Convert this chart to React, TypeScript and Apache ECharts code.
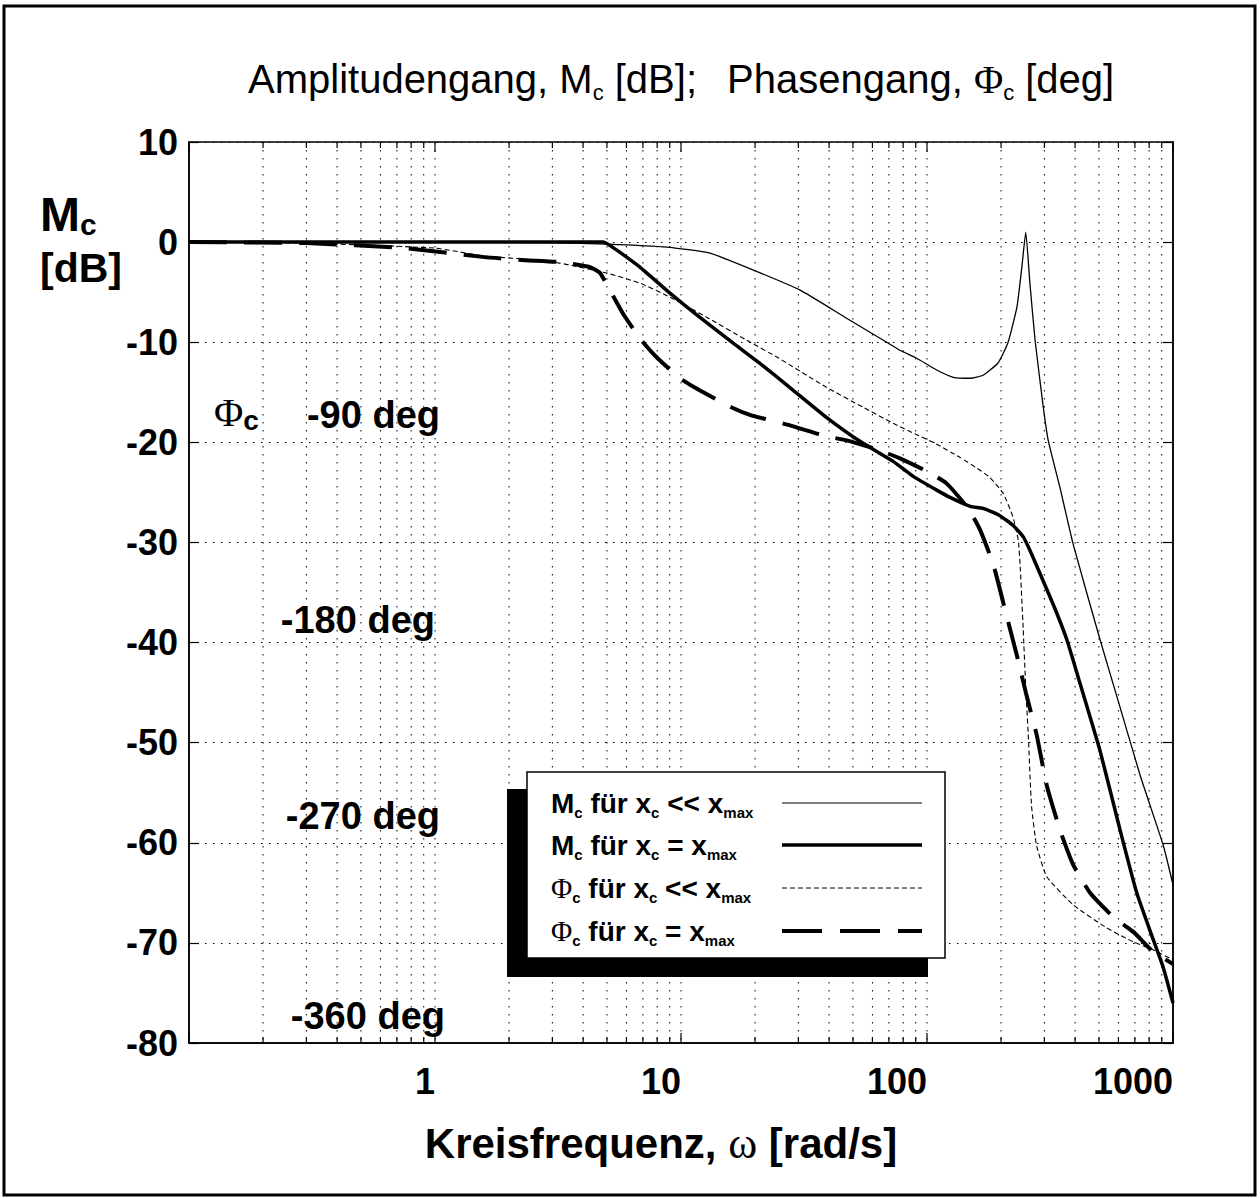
import React, { useEffect, useRef } from "react";
import * as echarts from "echarts";

const SANS = '"Liberation Sans", Arial, Helvetica, sans-serif';
const SERIF = '"Liberation Serif", "DejaVu Serif", "Times New Roman", serif';

// ---- axes ----
const X_MIN = 0.1;
const X_MAX = 1000;
const Y_MIN = -80;
const Y_MAX = 10;
const Y_STEP = 10;
const xTickLabels = [1, 10, 100, 1000];
const gridDecades = [0.1, 1, 10, 100];
const gridSteps = [1, 2, 3, 4, 5, 6, 7, 8, 9];

// ---- series: M_c für x_c << x_max (thin solid) ----
const magSmallFreq = [0.1, 1, 3, 5, 8.75, 13.1, 19.7, 30.5, 47.1, 64.4, 77.6, 90.8, 110, 128, 150, 169, 194, 213, 232, 243, 252, 262, 275, 297, 311, 347, 393, 505, 590, 734, 914, 1000];
const magSmallDb = [0, 0, -0.05, -0.2, -0.5, -1.1, -2.8, -4.8, -7.6, -9.6, -10.8, -11.6, -12.8, -13.5, -13.6, -13.3, -12.1, -10.1, -6.5, -2.5, 1.0, -4.1, -9.8, -16.5, -19.8, -24.5, -30.2, -39.7, -45.3, -53.2, -60.3, -64.2];

// ---- series: M_c für x_c = x_max (thick solid) ----
const magMaxFreq = [0.1, 1, 4.83, 5.48, 6.01, 6.81, 9.02, 11.9, 16.3, 20.9, 28.6, 39, 53.4, 72.9, 87.9, 110, 124, 150, 169, 197, 224, 247, 271, 326, 370, 419, 505, 609, 712, 832, 914, 1000];
const magMaxDb = [0, 0, 0, -0.8, -1.5, -2.5, -5.1, -7.5, -10.1, -12.1, -14.8, -17.5, -19.9, -21.9, -23.4, -24.8, -25.5, -26.4, -26.6, -27.3, -28.3, -29.5, -31.6, -36.2, -39.7, -44.1, -50.8, -58.7, -65.0, -69.7, -72.5, -76.0];

// ---- series: Phi_c für x_c << x_max (thin dashed) ----
const phaseSmallFreq = [0.1, 0.3, 1, 1.6, 2.67, 3.22, 5, 6.81, 9.02, 12.7, 18.5, 25, 39, 55, 72.9, 90, 106, 136, 160, 180, 204, 224, 235, 239, 246, 252, 258, 266, 279, 307, 393, 537, 690, 832, 1000];
const phaseSmallDb = [0, -0.1, -0.6, -1.4, -1.8, -2.1, -3.1, -4.1, -5.5, -7.5, -9.8, -11.6, -14.5, -16.5, -18.1, -19.2, -20.0, -21.5, -22.6, -23.5, -25.1, -27.5, -29.8, -32.2, -38.6, -44.5, -49.2, -56.3, -60.3, -63.4, -66.2, -68.5, -69.9, -70.7, -71.7];

// ---- series: Phi_c für x_c = x_max (thick dashed) ----
const phaseMaxFreq = [0.1, 0.3, 0.75, 1.59, 2.32, 3.22, 4.27, 4.69, 5.14, 5.83, 6.9, 7.96, 9.9, 11.9, 16, 19.3, 27.7, 39, 47.1, 64.4, 77.6, 100, 120, 147, 164, 186, 211, 232, 254, 279, 307, 347, 393, 460, 571, 690, 832, 1000];
const phaseMaxDb = [0, -0.1, -0.6, -1.5, -1.8, -2.0, -2.5, -3.1, -4.8, -7.2, -9.8, -11.5, -13.6, -14.8, -16.5, -17.3, -18.3, -19.4, -19.8, -20.8, -21.6, -22.9, -24.1, -26.6, -28.7, -32.2, -37.4, -41.3, -45.3, -49.2, -54.3, -58.7, -62.2, -65.0, -67.4, -68.9, -70.9, -72.1];

// ---- texts ----
const phaseLabels = ["-90 deg", "-180 deg", "-270 deg", "-360 deg"];
const legendTexts = [
  "{m|M}{s|c}{m| für x}{s|c}{m| << x}{s|max}",
  "{m|M}{s|c}{m| für x}{s|c}{m| = x}{s|max}",
  "{p|Φ}{s|c}{m| für x}{s|c}{m| << x}{s|max}",
  "{p|Φ}{s|c}{m| für x}{s|c}{m| = x}{s|max}",
];

const pairs = (f: number[], v: number[]) => f.map((x, i) => [x, v[i]]);

const gridValues: number[] = [];
gridDecades.forEach((d) => gridSteps.forEach((s) => gridValues.push(+(d * s).toPrecision(6))));
gridValues.push(X_MAX);

export default function App() {
  const ref = useRef<HTMLDivElement>(null);
  useEffect(() => {
    if (!ref.current) return;
    const chart = echarts.init(ref.current, undefined, { renderer: "svg" });

    const gridLeft = 189;
    const gridTop = 142;
    const gridW = 984;
    const gridH = 901;

    const dotted = [1.5, 6.5];

    const legendRich = {
      m: { fontFamily: SANS, fontWeight: "bold", fontSize: 28, lineHeight: 34, fill: "#000", color: "#000" },
      s: { fontFamily: SANS, fontWeight: "bold", fontSize: 15, lineHeight: 16, verticalAlign: "bottom", fill: "#000", color: "#000" },
      p: { fontFamily: SERIF, fontSize: 29, lineHeight: 34, fill: "#000", color: "#000" },
    };

    const legendRowsY = [803, 845, 888, 931];
    const legendLineStyles = [
      { lineWidth: 1.2, lineDash: null },
      { lineWidth: 3.5, lineDash: null },
      { lineWidth: 1, lineDash: [5, 3] },
      { lineWidth: 4, lineDash: [40, 18] },
    ];

    const phaseLabelPos = [
      [440, 415],
      [435, 620],
      [440, 816],
      [445, 1016],
    ];

    const graphic: any[] = [
      // outer frame
      { type: "rect", shape: { x: 4, y: 6, width: 1251, height: 1189 }, style: { fill: "none", stroke: "#000", lineWidth: 3 }, z: 0 },
      // y axis name
      {
        type: "text",
        x: 40,
        y: 214,
        style: {
          text: "{a|M}{b|c}",
          rich: {
            a: { fontFamily: SANS, fontWeight: "bold", fontSize: 48, lineHeight: 50, fill: "#000" },
            b: { fontFamily: SANS, fontWeight: "bold", fontSize: 30, lineHeight: 30, verticalAlign: "bottom", fill: "#000" },
          },
          verticalAlign: "middle",
          textVerticalAlign: "middle",
        },
      },
      {
        type: "text",
        x: 40,
        y: 268,
        style: { text: "[dB]", font: `bold 41px ${SANS}`, fill: "#000", verticalAlign: "middle", textVerticalAlign: "middle" },
      },
      // Phi_c label in plot
      {
        type: "text",
        x: 214,
        y: 412,
        z: 10,
        style: {
          text: "{a|Φ}{b|c}",
          rich: {
            a: { fontFamily: SERIF, fontSize: 40, lineHeight: 44, fill: "#000" },
            b: { fontFamily: SANS, fontWeight: "bold", fontSize: 28, lineHeight: 28, verticalAlign: "bottom", fill: "#000" },
          },
          verticalAlign: "middle",
          textVerticalAlign: "middle",
        },
      },
      ...phaseLabels.map((t, i) => ({
        type: "text",
        x: phaseLabelPos[i][0],
        y: phaseLabelPos[i][1],
        z: 10,
        style: {
          text: t,
          font: `bold 38px ${SANS}`,
          fill: "#000",
          align: "right",
          textAlign: "right",
          verticalAlign: "middle",
          textVerticalAlign: "middle",
        },
      })),
      // legend shadow and box
      { type: "rect", z: 20, shape: { x: 507, y: 789, width: 421, height: 188 }, style: { fill: "#000" } },
      { type: "rect", z: 21, shape: { x: 527, y: 772, width: 418, height: 186 }, style: { fill: "#fff", stroke: "#000", lineWidth: 1.5 } },
      ...legendTexts.map((t, i) => ({
        type: "text",
        z: 22,
        x: 551,
        y: legendRowsY[i],
        style: { text: t, rich: legendRich, verticalAlign: "middle", textVerticalAlign: "middle" },
      })),
      ...legendLineStyles.map((ls, i) => ({
        type: "line",
        z: 22,
        shape: { x1: 782, y1: legendRowsY[i], x2: 922, y2: legendRowsY[i] },
        style: { stroke: "#000", lineWidth: ls.lineWidth, lineDash: ls.lineDash || undefined },
      })),
    ];

    const lineSeries = (name: string, data: number[][], width: number, type: any, z: number) => ({
      type: "line",
      name,
      data,
      showSymbol: false,
      symbol: "none",
      smooth: 0.15,
      z,
      lineStyle: { color: "#000", width, type },
    });

    const option: any = {
      animation: false,
      backgroundColor: "#fff",
      title: {
        text: "Amplitudengang, M{s|c} [dB];{g|}Phasengang, {p|Φ}{s|c} [deg]",
        left: 243,
        top: 50,
        textStyle: {
          fontFamily: SANS,
          fontWeight: "normal",
          fontSize: 40,
          color: "#000",
          lineHeight: 48,
          rich: {
            s: { fontFamily: SANS, fontSize: 22, lineHeight: 22, verticalAlign: "bottom", color: "#000" },
            p: { fontFamily: SERIF, fontSize: 40, lineHeight: 48, color: "#000" },
            g: { width: 30 },
          },
        },
      },
      grid: {
        left: gridLeft,
        top: gridTop,
        width: gridW,
        height: gridH,
        show: true,
        borderColor: "#000",
        borderWidth: 1.5,
        backgroundColor: "transparent",
        containLabel: false,
      },
      xAxis: {
        type: "log",
        logBase: 10,
        min: X_MIN,
        max: X_MAX,
        name: "Kreisfrequenz, {w|ω} [rad/s]",
        nameLocation: "middle",
        nameGap: 78,
        nameTextStyle: {
          fontFamily: SANS,
          fontWeight: "bold",
          fontSize: 42,
          color: "#000",
          padding: [0, 40, 0, 0],
          rich: { w: { fontFamily: SERIF, fontSize: 44, fontWeight: "normal", color: "#000" } },
        },
        axisLine: { show: true, onZero: false, lineStyle: { color: "#000", width: 1.5 } },
        axisTick: { show: false },
        splitLine: { show: false },
        axisLabel: {
          show: true,
          fontFamily: SANS,
          fontWeight: "bold",
          fontSize: 36,
          color: "#000",
          margin: 20,
          align: "right",
          showMinLabel: true,
          showMaxLabel: true,
          hideOverlap: false,
          formatter: (v: number) => {
            const r = xTickLabels.find((t) => Math.abs(t - v) / t < 1e-6);
            return r ? String(r) : "";
          },
        },
      },
      yAxis: [
        {
          type: "value",
          min: Y_MIN,
          max: Y_MAX,
          interval: Y_STEP,
          axisLine: { show: true, onZero: false, lineStyle: { color: "#000", width: 1.5 } },
          axisTick: { show: true, inside: true, length: 10, lineStyle: { color: "#000", width: 1.2 } },
          splitLine: { show: true, lineStyle: { color: "#000", width: 1, type: dotted } },
          axisLabel: { fontFamily: SANS, fontWeight: "bold", fontSize: 36, color: "#000", margin: 11 },
        },
        {
          type: "value",
          position: "right",
          min: Y_MIN,
          max: Y_MAX,
          interval: Y_STEP,
          axisLine: { show: true, onZero: false, lineStyle: { color: "#000", width: 1.5 } },
          axisTick: { show: true, inside: true, length: 10, lineStyle: { color: "#000", width: 1.2 } },
          splitLine: { show: false },
          axisLabel: { show: false },
        },
      ],
      series: [
        {
          type: "custom",
          name: "grid",
          silent: true,
          z: 1,
          data: gridValues.map((v) => [v, Y_MIN]),
          encode: { x: 0, y: 1 },
          renderItem: (_p: any, api: any) => {
            const v = api.value(0);
            const top = api.coord([v, Y_MAX]);
            const bot = api.coord([v, Y_MIN]);
            const lg = Math.log10(v);
            const major = Math.abs(lg - Math.round(lg)) < 1e-6;
            const tl = major ? 10 : 6;
            const children: any[] = [];
            if (v > X_MIN * 1.01 && v < X_MAX * 0.99) {
              children.push({
                type: "line",
                shape: { x1: top[0], y1: top[1], x2: bot[0], y2: bot[1] },
                style: { stroke: "#000", lineWidth: 1, lineDash: dotted },
              });
            }
            children.push({ type: "line", shape: { x1: top[0], y1: top[1], x2: top[0], y2: top[1] + tl }, style: { stroke: "#000", lineWidth: 1.2 } });
            children.push({ type: "line", shape: { x1: bot[0], y1: bot[1], x2: bot[0], y2: bot[1] - tl }, style: { stroke: "#000", lineWidth: 1.2 } });
            return { type: "group", children };
          },
        },
        lineSeries("M_c für x_c << x_max", pairs(magSmallFreq, magSmallDb), 1.3, "solid", 3),
        lineSeries("M_c für x_c = x_max", pairs(magMaxFreq, magMaxDb), 3.5, "solid", 4),
        lineSeries("Φ_c für x_c << x_max", pairs(phaseSmallFreq, phaseSmallDb), 1.1, [5, 3], 3),
        lineSeries("Φ_c für x_c = x_max", pairs(phaseMaxFreq, phaseMaxDb), 4, [38, 17], 4),
      ],
      graphic,
    };

    chart.setOption(option);
    return () => chart.dispose();
  }, []);

  return (
    <div
      ref={ref}
      style={{ position: "absolute", left: 0, top: 0, width: 1260, height: 1198, background: "#fff" }}
    />
  );
}
